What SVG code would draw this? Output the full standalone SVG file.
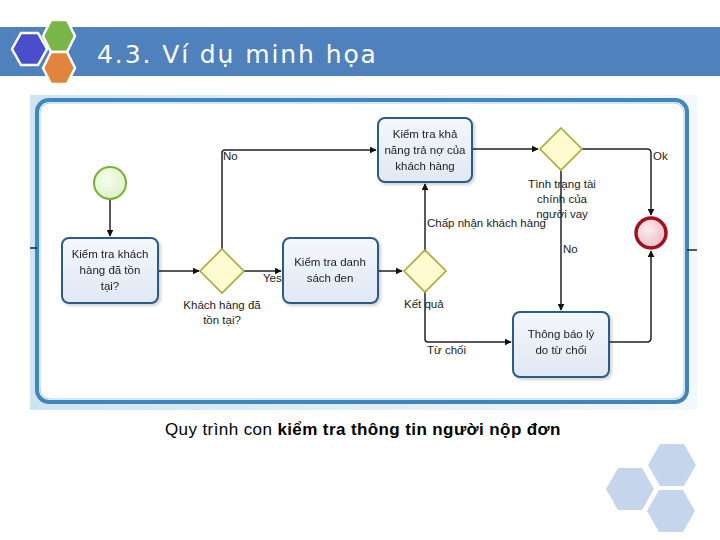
<svg xmlns="http://www.w3.org/2000/svg" width="720" height="540" viewBox="0 0 720 540">
<style>
.t{font-family:"Liberation Sans",Arial,sans-serif;font-size:11.5px;fill:#222;text-anchor:middle}
.l{font-family:"Liberation Sans",Arial,sans-serif;font-size:11.5px;fill:#222}
.task{fill:url(#tg);stroke:#2c5c86;stroke-width:2}
.gw{fill:#fdfbcf;stroke:#a9a83a;stroke-width:1.6}
.c{fill:none;stroke:#222;stroke-width:1.5}
.hx{stroke:#fff;stroke-width:2.5}
</style>
<defs>
<linearGradient id="tg" x1="0" y1="0" x2="0" y2="1"><stop offset="0" stop-color="#f4f7fc"/><stop offset="1" stop-color="#dfe8f4"/></linearGradient>
<radialGradient id="eg" cx="0.4" cy="0.4" r="0.7"><stop offset="0" stop-color="#fbeef0"/><stop offset="1" stop-color="#e9b7bf"/></radialGradient>
<radialGradient id="sg" cx="0.4" cy="0.4" r="0.7"><stop offset="0" stop-color="#f6fdee"/><stop offset="1" stop-color="#d9f1c4"/></radialGradient>
<linearGradient id="fg" x1="0" y1="0" x2="1" y2="0"><stop offset="0" stop-color="#cfe4f3"/><stop offset="1" stop-color="#f3f8fc"/></linearGradient>
<marker id="a" viewBox="0 0 10 10" refX="9" refY="5" markerWidth="7" markerHeight="7" markerUnits="userSpaceOnUse" orient="auto"><path d="M0,0 L10,5 L0,10 z" fill="#111"/></marker>
<filter id="sh" x="-10%" y="-10%" width="130%" height="130%"><feDropShadow dx="2" dy="2" stdDeviation="1.5" flood-color="#000" flood-opacity="0.18"/></filter>
</defs>
<rect width="720" height="540" fill="#fff"/>
<g id="header">
<rect x="0" y="27" width="720" height="49" fill="#4f81bd"/>
<polygon class="hx" fill="#4b4ecb" points="12,49 21,33 38,33 47,49 38,65 21,65"/>
<polygon class="hx" fill="#79b547" points="43,36 51,20 67,20 75,36 67,52 51,52"/>
<polygon class="hx" fill="#e0843e" points="43,68 51,52 67,52 75,68 67,84 51,84"/>
<text x="97" y="63" font-family="'DejaVu Sans',Verdana,sans-serif" font-size="25" letter-spacing="1.9" fill="#fff">4.3. Ví dụ minh họa</text>
</g>
<g id="frame">
<rect x="30" y="95" width="667" height="315" fill="url(#fg)"/>
<rect x="37" y="100" width="650" height="302" rx="12" fill="#fff" stroke="#3f86bd" stroke-width="4"/>
<rect x="40" y="103" width="644" height="296" rx="10" fill="none" stroke="#a9cde8" stroke-width="1"/>
<line x1="30" y1="248" x2="37" y2="248" stroke="#222" stroke-width="1.5"/>
<line x1="687" y1="250" x2="697" y2="250" stroke="#222" stroke-width="1.5"/>
</g>
<g id="connectors">
<path class="c" d="M110 200 V236" stroke-width="2" marker-end="url(#a)"/>
<path class="c" d="M158 271 H199" marker-end="url(#a)"/>
<path class="c" d="M243 271 H281" marker-end="url(#a)"/>
<path class="c" d="M222 249 V153 Q222 150 225 150 H376" marker-end="url(#a)"/>
<path class="c" d="M378 271 H402" marker-end="url(#a)"/>
<path class="c" d="M425 250 V184" stroke-width="2.2" marker-end="url(#a)"/>
<path class="c" d="M425 292 V339 Q425 342 428 342 H511" marker-end="url(#a)"/>
<path class="c" d="M472 149 H538" marker-end="url(#a)"/>
<path class="c" d="M582 149 H647 Q651 149 651 153 V215" marker-end="url(#a)"/>
<path class="c" d="M561 171 V310" stroke="#777" stroke-width="2.2" marker-end="url(#a)"/>
<path class="c" d="M609 342 H647 Q651 342 651 338 V251" marker-end="url(#a)"/>
<text class="l" x="223" y="160">No</text>
<text class="l" x="263" y="282">Yes</text>
<text class="l" x="427" y="227">Chấp nhận khách hàng</text>
<text class="l" x="404" y="308">Kết quả</text>
<text class="l" x="427" y="354">Từ chối</text>
<text class="l" x="563" y="253">No</text>
<text class="l" x="653" y="160">Ok</text>
</g>
<g id="start"><circle cx="110" cy="183" r="16" fill="url(#sg)" stroke="#79b03a" stroke-width="2"/></g>
<g id="task1" filter="url(#sh)">
<rect class="task" x="62" y="238" width="96" height="65" rx="7"/>
<text class="t" x="110" y="258">Kiểm tra khách</text>
<text class="t" x="110" y="274">hàng đã tồn</text>
<text class="t" x="110" y="290">tại?</text>
</g>
<g id="gw1">
<polygon class="gw" points="222,249 244,271 222,293 200,271"/>
<text class="t" x="222" y="309">Khách hàng đã</text>
<text class="t" x="222" y="324">tồn tại?</text>
</g>
<g id="task2" filter="url(#sh)">
<rect class="task" x="283" y="238" width="95" height="65" rx="7"/>
<text class="t" x="330" y="266">Kiểm tra danh</text>
<text class="t" x="330" y="282">sách đen</text>
</g>
<g id="gw2"><polygon class="gw" points="425,250 446,271 425,292 404,271"/></g>
<g id="task3" filter="url(#sh)">
<rect class="task" x="378" y="118" width="94" height="64" rx="7"/>
<text class="t" x="425" y="138">Kiểm tra khả</text>
<text class="t" x="425" y="154">năng trả nợ của</text>
<text class="t" x="425" y="170">khách hàng</text>
</g>
<g id="gw3">
<polygon class="gw" points="561,128 582,149 561,170 540,149"/>
<text class="t" x="562" y="188">Tình trạng tài</text>
<text class="t" x="562" y="203">chính của</text>
<text class="t" x="562" y="218">người vay</text>
</g>
<g id="task4" filter="url(#sh)">
<rect class="task" x="513" y="312" width="96" height="65" rx="7"/>
<text class="t" x="561" y="338">Thông báo lý</text>
<text class="t" x="561" y="354">do từ chối</text>
</g>
<g id="end"><circle cx="651" cy="233" r="15" fill="url(#eg)" stroke="#a3101f" stroke-width="3.5"/></g>
<g id="caption" font-family="'Liberation Sans',Arial,sans-serif" font-size="17" fill="#000">
<text x="165" y="435" letter-spacing="0.4">Quy trình con <tspan font-weight="bold">kiểm tra thông tin người nộp đơn</tspan></text>
</g>
<g id="deco" fill="#c5d6ec">
<polygon points="648,465 660,444 684,444 696,465 684,486 660,486"/>
<polygon points="606,489 618,468 642,468 654,489 642,510 618,510"/>
<polygon points="647,511 659,490 683,490 695,511 683,532 659,532"/>
</g>
</svg>
